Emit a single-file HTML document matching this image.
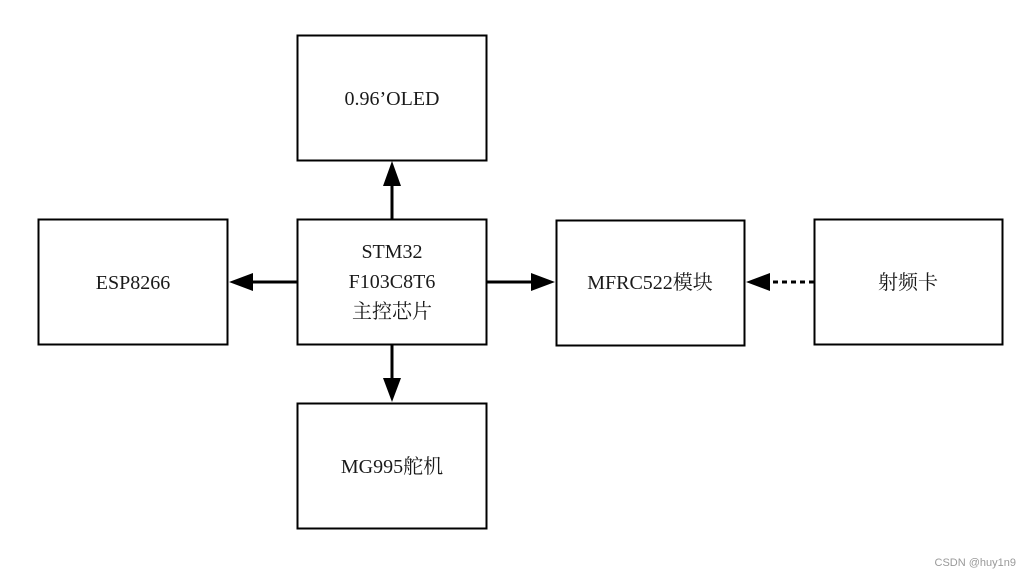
<!DOCTYPE html>
<html><head><meta charset="utf-8"><style>
html,body{margin:0;padding:0;background:#fff;}
svg text{font-family:"Liberation Serif","Noto Serif CJK SC",serif;font-size:20px;fill:#1a1a1a;}
</style></head><body>
<svg width="1031" height="578" viewBox="0 0 1031 578" xmlns="http://www.w3.org/2000/svg">
<g fill="none" stroke="#000" stroke-width="2">
<rect x="297.5" y="35.5" width="189" height="125"/>
<rect x="297.5" y="219.5" width="189" height="125"/>
<rect x="38.5" y="219.5" width="189" height="125"/>
<rect x="556.5" y="220.5" width="188" height="125"/>
<rect x="814.5" y="219.5" width="188" height="125"/>
<rect x="297.5" y="403.5" width="189" height="125"/>
<g stroke-width="3">
<line x1="392" y1="219" x2="392" y2="184"/>
<line x1="297" y1="282" x2="250" y2="282"/>
<line x1="487" y1="282" x2="533" y2="282"/>
<line x1="392" y1="345" x2="392" y2="380"/>
<line x1="814" y1="282" x2="770" y2="282" stroke-dasharray="5,4"/>
</g>
</g>
<g fill="#000">
<polygon points="392,161 383,186 401,186"/>
<polygon points="229,282 253,273 253,291"/>
<polygon points="555,282 531,273 531,291"/>
<polygon points="392,402 383,378 401,378"/>
<polygon points="746,282 770,273 770,291"/>
</g>
<g text-anchor="middle">
<text x="392" y="105">0.96’OLED</text>
<text x="392" y="258">STM32</text>
<text x="392" y="288">F103C8T6</text>
<text x="392" y="318">主控芯片</text>
<text x="133" y="289">ESP8266</text>
<text x="650" y="289">MFRC522模块</text>
<text x="908" y="289">射频卡</text>
<text x="392" y="473">MG995舵机</text>
</g>
<text x="1016" y="566" text-anchor="end" style="font-family:'Liberation Sans',sans-serif;font-size:11px;fill:#999">CSDN @huy1n9</text>
</svg>
</body></html>
